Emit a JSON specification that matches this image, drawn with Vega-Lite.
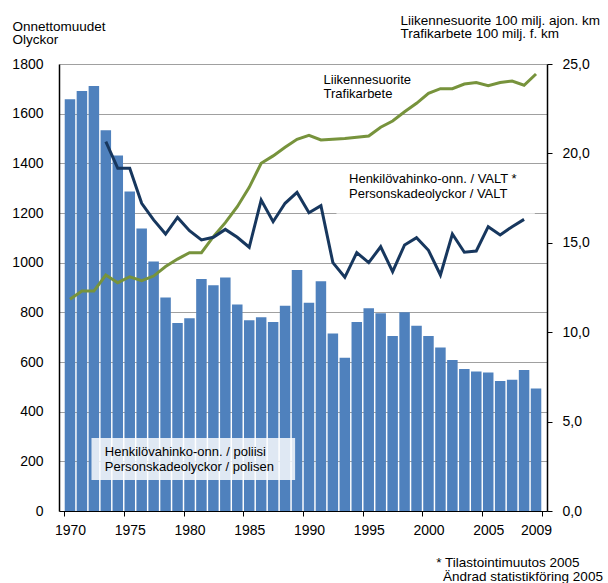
{
  "$schema": "https://vega.github.io/schema/vega-lite/v6.json",
  "width": 488,
  "height": 447,
  "autosize": {"type": "none"},
  "padding": {"left": 59, "top": 64, "right": 61, "bottom": 72},
  "background": "white",
  "config": {
    "view": {"stroke": null},
    "font": "Liberation Sans",
    "axis": {"labelFont": "Liberation Sans", "titleFont": "Liberation Sans", "labelColor": "black", "titleColor": "black"},
    "text": {"font": "Liberation Sans"}
  },
  "datasets": {
    "main": [
      {"year": 1970, "acc": 1658, "traffic": 11.84, "valt": null},
      {"year": 1971, "acc": 1691, "traffic": 12.30, "valt": null},
      {"year": 1972, "acc": 1711, "traffic": 12.30, "valt": null},
      {"year": 1973, "acc": 1533, "traffic": 13.20, "valt": 20.66},
      {"year": 1974, "acc": 1432, "traffic": 12.77, "valt": 19.17},
      {"year": 1975, "acc": 1287, "traffic": 13.10, "valt": 19.17},
      {"year": 1976, "acc": 1138, "traffic": 12.88, "valt": 17.21},
      {"year": 1977, "acc": 1005, "traffic": 13.14, "valt": 16.28},
      {"year": 1978, "acc": 860, "traffic": 13.67, "valt": 15.49},
      {"year": 1979, "acc": 757, "traffic": 14.09, "valt": 16.42},
      {"year": 1980, "acc": 776, "traffic": 14.45, "valt": 15.68},
      {"year": 1981, "acc": 934, "traffic": 14.45, "valt": 15.16},
      {"year": 1982, "acc": 909, "traffic": 15.34, "valt": 15.31},
      {"year": 1983, "acc": 940, "traffic": 16.13, "valt": 15.75},
      {"year": 1984, "acc": 832, "traffic": 17.02, "valt": 15.31},
      {"year": 1985, "acc": 768, "traffic": 18.10, "valt": 14.75},
      {"year": 1986, "acc": 780, "traffic": 19.45, "valt": 17.39},
      {"year": 1987, "acc": 761, "traffic": 19.86, "valt": 16.18},
      {"year": 1988, "acc": 827, "traffic": 20.34, "valt": 17.21},
      {"year": 1989, "acc": 970, "traffic": 20.79, "valt": 17.82},
      {"year": 1990, "acc": 839, "traffic": 21.01, "valt": 16.68},
      {"year": 1991, "acc": 925, "traffic": 20.75, "valt": 17.08},
      {"year": 1992, "acc": 715, "traffic": 20.79, "valt": 13.89},
      {"year": 1993, "acc": 617, "traffic": 20.83, "valt": 13.07},
      {"year": 1994, "acc": 761, "traffic": 20.90, "valt": 14.45},
      {"year": 1995, "acc": 816, "traffic": 20.97, "valt": 13.89},
      {"year": 1996, "acc": 796, "traffic": 21.46, "valt": 14.78},
      {"year": 1997, "acc": 705, "traffic": 21.81, "valt": 13.39},
      {"year": 1998, "acc": 800, "traffic": 22.33, "valt": 14.88},
      {"year": 1999, "acc": 746, "traffic": 22.80, "valt": 15.29},
      {"year": 2000, "acc": 705, "traffic": 23.36, "valt": 14.58},
      {"year": 2001, "acc": 658, "traffic": 23.62, "valt": 13.20},
      {"year": 2002, "acc": 608, "traffic": 23.62, "valt": 15.49},
      {"year": 2003, "acc": 572, "traffic": 23.88, "valt": 14.47},
      {"year": 2004, "acc": 562, "traffic": 23.96, "valt": 14.54},
      {"year": 2005, "acc": 558, "traffic": 23.79, "valt": 15.90},
      {"year": 2006, "acc": 523, "traffic": 23.96, "valt": 15.44},
      {"year": 2007, "acc": 529, "traffic": 24.05, "valt": 15.90},
      {"year": 2008, "acc": 568, "traffic": 23.81, "valt": 16.31},
      {"year": 2009, "acc": 493, "traffic": 24.44, "valt": null}
    ],
    "boxes": [
      {"year": 1971.8, "year2": 1988.84, "lo": 125, "hi": 294, "op": 0.82},
      {"year": 1992.3, "year2": 2008.9, "lo": 1192, "hi": 1385, "op": 0.7}
    ],
    "labels": [
      {"year": 1991.22, "v": 1721, "size": 13, "text": "Liikennesuorite\nTrafikarbete"},
      {"year": 1993.35, "v": 1320, "size": 13, "text": "Henkilövahinko-onn. / VALT *\nPersonskadeolyckor / VALT"},
      {"year": 1972.92, "v": 221, "size": 13, "text": "Henkilövahinko-onn. / poliisi\nPersonskadeolyckor / polisen"},
      {"year": 2000.65, "v": -224, "size": 13.5, "text": "* Tilastointimuutos 2005"},
      {"year": 2001.22, "v": -282, "size": 13.5, "text": "Ändrad statistikföring 2005"}
    ]
  },
  "layer": [
    {
      "data": {"name": "main"},
      "mark": {"type": "bar", "size": 10.5, "color": "#4F81BD"},
      "encoding": {
        "x": {
          "field": "year", "type": "quantitative",
          "scale": {"domain": [1969.5, 2009.5], "nice": false, "zero": false},
          "axis": {
            "orient": "bottom",
            "values": [1969.5, 1974.5, 1979.5, 1984.5, 1989.5, 1994.5, 1999.5, 2004.5, 2009.5],
            "labels": false, "ticks": true, "tickSize": 5, "tickColor": "black",
            "domain": true, "domainColor": "black", "grid": false, "title": null
          }
        },
        "y": {
          "field": "acc", "type": "quantitative",
          "scale": {"domain": [0, 1800], "nice": false},
          "axis": {
            "orient": "left",
            "values": [0, 200, 400, 600, 800, 1000, 1200, 1400, 1600, 1800],
            "format": "d",
            "grid": true, "gridColor": "#a0a0a0", "gridWidth": 1,
            "ticks": false, "domain": true, "domainColor": "black", "domainWidth": 1.5,
            "labelFontSize": 14, "labelPadding": 16,
            "title": ["Onnettomuudet", "Olyckor"],
            "titleAngle": 0, "titleAlign": "left", "titleBaseline": "alphabetic",
            "titleX": -47, "titleY": -34, "titleFontSize": 13.5, "titleFontWeight": "normal",
            "titleLineHeight": 13.5
          }
        }
      }
    },
    {
      "data": {"name": "boxes"},
      "mark": {"type": "rect", "color": "white"},
      "encoding": {
        "x": {"field": "year", "type": "quantitative", "axis": null},
        "x2": {"field": "year2"},
        "y": {"field": "lo", "type": "quantitative", "scale": {"domain": [0, 1800], "nice": false}, "axis": null},
        "y2": {"field": "hi"},
        "opacity": {"field": "op", "type": "quantitative", "scale": null}
      }
    },
    {
      "data": {"name": "main"},
      "mark": {"type": "line", "color": "#77933C", "strokeWidth": 3},
      "encoding": {
        "x": {
          "field": "year", "type": "quantitative",
          "axis": {
            "orient": "bottom",
            "values": [1970, 1975, 1980, 1985, 1990, 1995, 2000, 2005, 2009],
            "format": "d", "ticks": false, "domain": false, "grid": false,
            "labelFontSize": 14, "labelPadding": 12, "labelFlush": false, "labelOverlap": false,
            "title": null
          }
        },
        "y": {
          "field": "traffic", "type": "quantitative",
          "scale": {"domain": [0, 25], "nice": false},
          "axis": {
            "orient": "right",
            "values": [0, 5, 10, 15, 20, 25],
            "labelExpr": "replace(format(datum.value, '.1f'), '.', ',')",
            "tickSize": 5, "tickColor": "black", "tickWidth": 1,
            "domainColor": "black", "domainWidth": 1.5, "grid": false,
            "labelFontSize": 14, "labelPadding": 10,
            "title": ["Liikennesuorite 100 milj. ajon. km", "Trafikarbete 100 milj. f. km"],
            "titleAngle": 0, "titleAlign": "left", "titleBaseline": "alphabetic",
            "titleX": -147, "titleY": -40, "titleFontSize": 13.5, "titleFontWeight": "normal",
            "titleLineHeight": 13.5
          }
        }
      }
    },
    {
      "data": {"name": "main"},
      "mark": {"type": "line", "color": "#17375E", "strokeWidth": 3},
      "encoding": {
        "x": {"field": "year", "type": "quantitative", "axis": null},
        "y": {"field": "valt", "type": "quantitative", "scale": {"domain": [0, 25], "nice": false}, "axis": null}
      }
    },
    {
      "data": {"name": "labels"},
      "mark": {"type": "text", "align": "left", "baseline": "alphabetic", "lineBreak": "\n", "lineHeight": 14.5, "color": "black"},
      "encoding": {
        "x": {"field": "year", "type": "quantitative", "axis": null},
        "y": {"field": "v", "type": "quantitative", "scale": {"domain": [0, 1800], "nice": false}, "axis": null},
        "text": {"field": "text"},
        "size": {"field": "size", "type": "quantitative", "scale": null}
      }
    }
  ],
  "resolve": {"scale": {"y": "independent"}, "axis": {"x": "independent", "y": "independent"}}
}
